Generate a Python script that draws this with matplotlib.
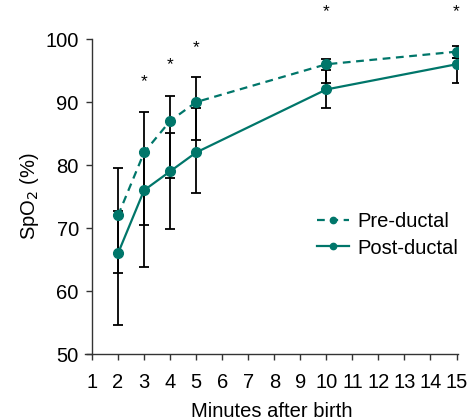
#!/usr/bin/env python3

import matplotlib
matplotlib.use("Agg")
import matplotlib.pyplot as plt

plt.rcParams["font.family"] = ["Liberation Sans", "DejaVu Sans"]

TEAL = "#00766a"

minutes = [2, 3, 4, 5, 10, 15]

pre_ductal = [72, 82, 87, 90, 96, 98]
pre_upper = [79.5, 88.5, 91, 93.9, 96.9, 98.9]
pre_lower = [62.9, 70.5, 78, 83.9, 93, 97]

post_ductal = [66, 76, 79, 82, 92, 96]
post_upper = [72.7, 82, 85.1, 89.1, 95.1, 97]
post_lower = [54.6, 63.8, 69.9, 75.6, 89, 93]

star_x = [3, 4, 5, 10, 15]
star_y = [93.2, 96, 98.7, 104.3, 104.3]


def main() -> None:
    fig = plt.figure(figsize=(4.69, 4.2), dpi=100)
    ax = fig.add_axes([0.1812, 0.157, 0.795, 0.75])

    for y, up, lo in [(pre_ductal, pre_upper, pre_lower), (post_ductal, post_upper, post_lower)]:
        err = [[v - l for v, l in zip(y, lo)], [u - v for v, u in zip(y, up)]]
        ax.errorbar(minutes, y, yerr=err, fmt="none", ecolor="black",
                    elinewidth=1.3, capsize=3.6, capthick=1.3, zorder=2)

    ax.plot(minutes, pre_ductal, linestyle="--", color=TEAL, linewidth=1.6,
            marker="o", markersize=7, label="Pre-ductal", zorder=3,
            dashes=(3.5, 2.5))
    ax.plot(minutes, post_ductal, linestyle="-", color=TEAL, linewidth=1.6,
            marker="o", markersize=7, label="Post-ductal", zorder=3)

    for x, y in zip(star_x, star_y):
        ax.text(x, y, "*", ha="center", va="center", fontsize=12.5, clip_on=False)

    ax.set_xlim(0.73, 15.05)
    ax.set_ylim(50, 100)
    ax.set_xticks(range(1, 16))
    ax.set_yticks(range(50, 101, 10))

    ax.spines["top"].set_visible(False)
    ax.spines["right"].set_visible(False)
    ax.spines["left"].set_position(("data", 1))
    for side in ["left", "bottom"]:
        ax.spines[side].set_linewidth(1.0)
        ax.spines[side].set_color("#333333")
    ax.tick_params(direction="out", length=4.5, width=1.0, labelsize=14.5, colors="#333333",
                   labelcolor="black")
    ax.tick_params(axis="y", pad=5)
    ax.tick_params(axis="x", pad=9)

    ax.set_xlabel("Minutes after birth", fontsize=14.5, labelpad=7)
    ax.set_ylabel("SpO$_2$ (%)", fontsize=14.5, labelpad=3)

    ax.legend(loc="upper left", bbox_to_anchor=(0.6, 0.475), frameon=False,
              fontsize=14.5, handlelength=1.6, handletextpad=0.4,
              labelspacing=0.35, borderaxespad=0.0, markerscale=0.65)

    fig.savefig("out.png", dpi=100)
    plt.close(fig)


if __name__ == "__main__":
    main()
